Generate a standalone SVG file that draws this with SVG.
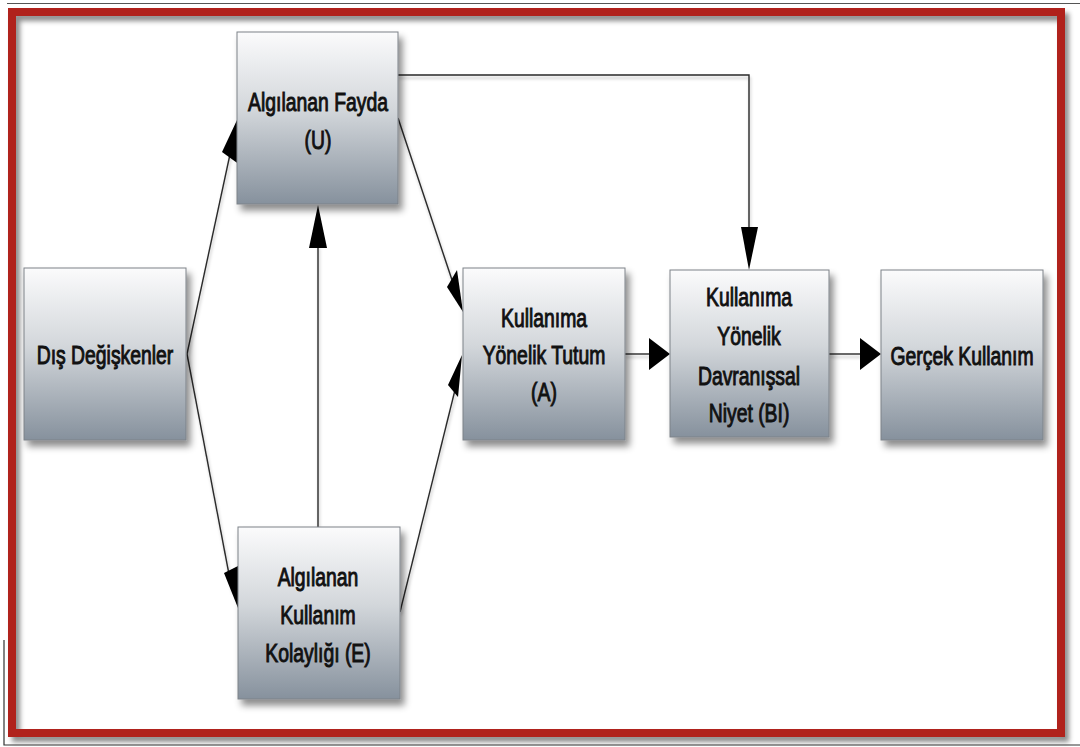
<svg xmlns="http://www.w3.org/2000/svg" width="1080" height="747" viewBox="0 0 1080 747">
<defs>
<linearGradient id="boxg" x1="0" y1="0" x2="0" y2="1">
<stop offset="0" stop-color="#fbfbfc"/>
<stop offset="0.45" stop-color="#d3d7db"/>
<stop offset="1" stop-color="#86919d"/>
</linearGradient>
<filter id="sh" x="-20%" y="-20%" width="150%" height="150%">
<feDropShadow dx="4" dy="6" stdDeviation="3.5" flood-color="#000" flood-opacity="0.45"/>
</filter>
<filter id="fsh" x="-5%" y="-5%" width="110%" height="110%">
<feDropShadow dx="4" dy="5" stdDeviation="2.5" flood-color="#000" flood-opacity="0.45"/>
</filter>
<filter id="lsh" x="-10%" y="-10%" width="120%" height="130%">
<feDropShadow dx="1" dy="3" stdDeviation="1.5" flood-color="#000" flood-opacity="0.25"/>
</filter>
</defs>
<style>
.box{fill:url(#boxg);stroke:#7d8288;stroke-width:1;filter:url(#sh)}
.lbl{font-family:"Liberation Sans",Arial,sans-serif;font-size:26px;fill:#111;stroke:#111;stroke-width:1;text-anchor:middle}
.ln{fill:none;stroke:#2a2a2a;stroke-width:1.4}
.ah{fill:#000;stroke:none}
</style>
<rect x="0" y="0" width="1080" height="747" fill="#ffffff"/>
<g id="page-border">
<line x1="7" y1="3.5" x2="1080" y2="3.5" stroke="#555" stroke-width="1.2"/>
<polyline points="4,640 4,745 1080,745" fill="none" stroke="#333" stroke-width="1.2"/>
</g>
<g id="frame">
<rect x="12" y="12" width="1049" height="721" fill="none" stroke="#b0241a" stroke-width="8" filter="url(#fsh)"/>
</g>
<g id="connectors">
<g filter="url(#lsh)">
<polyline class="ln" points="398,75 749,75 749,230"/>
<line class="ln" x1="187" y1="354" x2="232" y2="145"/>
<line class="ln" x1="187" y1="354" x2="232" y2="590"/>
<line class="ln" x1="318" y1="527" x2="318" y2="245"/>
<line class="ln" x1="398" y1="118" x2="452" y2="280"/>
<line class="ln" x1="400" y1="612" x2="455" y2="390"/>
<line class="ln" x1="625" y1="354" x2="650" y2="354"/>
<line class="ln" x1="829" y1="354" x2="860" y2="354"/>
</g>
<polygon class="ah" points="749,270 741,227 758,227"/>
<polygon class="ah" points="237,120 240,165 222,152"/>
<polygon class="ah" points="240,613 224,573 238,566"/>
<polygon class="ah" points="318,205 309,248 327,248"/>
<polygon class="ah" points="463,312 447,287 457,270"/>
<polygon class="ah" points="462,355 458,397 448,385"/>
<polygon class="ah" points="670,354 649,338 649,370"/>
<polygon class="ah" points="881,354 860,338 860,370"/>
</g>
<g id="node-U">
<rect class="box" x="237" y="32" width="161" height="172"/>
<g transform="translate(318,0) scale(0.745,1)">
<text class="lbl" x="0" y="111">Algılanan Fayda</text>
<text class="lbl" x="0" y="149">(U)</text>
</g>
</g>
<g id="node-dis">
<rect class="box" x="24" y="268" width="162" height="172"/>
<g transform="translate(105,0) scale(0.745,1)">
<text class="lbl" x="0" y="364">Dış Değişkenler</text>
</g>
</g>
<g id="node-E">
<rect class="box" x="238" y="527" width="162" height="172"/>
<g transform="translate(318,0) scale(0.745,1)">
<text class="lbl" x="0" y="586">Algılanan</text>
<text class="lbl" x="0" y="624">Kullanım</text>
<text class="lbl" x="0" y="662">Kolaylığı (E)</text>
</g>
</g>
<g id="node-A">
<rect class="box" x="463" y="268" width="162" height="172"/>
<g transform="translate(544,0) scale(0.745,1)">
<text class="lbl" x="0" y="327">Kullanıma</text>
<text class="lbl" x="0" y="364">Yönelik Tutum</text>
<text class="lbl" x="0" y="401">(A)</text>
</g>
</g>
<g id="node-BI">
<rect class="box" x="670" y="270" width="159" height="167"/>
<g transform="translate(749,0) scale(0.745,1)">
<text class="lbl" x="0" y="306">Kullanıma</text>
<text class="lbl" x="0" y="345">Yönelik</text>
<text class="lbl" x="0" y="385">Davranışsal</text>
<text class="lbl" x="0" y="422">Niyet (BI)</text>
</g>
</g>
<g id="node-G">
<rect class="box" x="881" y="270" width="162" height="170"/>
<g transform="translate(962,0) scale(0.745,1)">
<text class="lbl" x="0" y="365">Gerçek Kullanım</text>
</g>
</g>
</svg>
